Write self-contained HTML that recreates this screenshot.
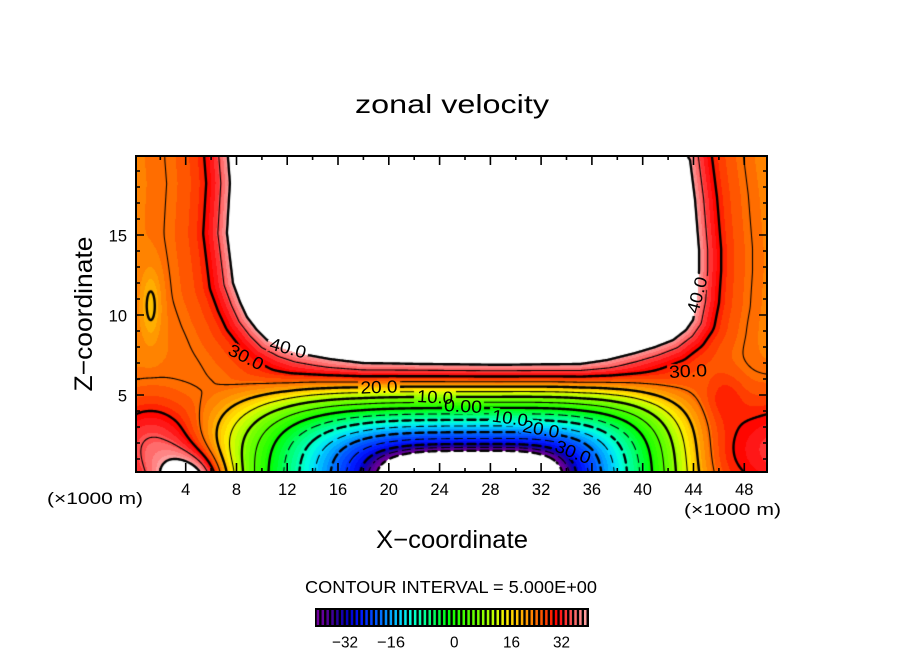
<!DOCTYPE html>
<html><head><meta charset="utf-8">
<style>
html,body{margin:0;padding:0;background:#fff;}
#wrap{position:relative;width:904px;height:654px;overflow:hidden;background:#fff;}
canvas{position:absolute;left:136px;top:157px;}
svg{position:absolute;left:0;top:0;}
text{font-family:"Liberation Sans",sans-serif;fill:#000;}
</style></head><body><div id="wrap">
<canvas id="c" width="631" height="315"></canvas>
<canvas id="l" width="631" height="315"></canvas>
<svg id="s" width="904" height="654" xmlns="http://www.w3.org/2000/svg">
<g id="cb"></g>
<rect x="136" y="156" width="631" height="316" fill="none" stroke="#000" stroke-width="2"/>
<path id="ticks" d="" stroke="#000" stroke-width="1.6" fill="none"/>
<text x="452" y="113" font-size="26" text-anchor="middle" textLength="194" lengthAdjust="spacingAndGlyphs">zonal velocity</text>
<text transform="translate(92,314) rotate(-90)" font-size="25" text-anchor="middle" textLength="155" lengthAdjust="spacingAndGlyphs">Z−coordinate</text>
<text x="452" y="548" font-size="25" text-anchor="middle" textLength="152" lengthAdjust="spacingAndGlyphs">X−coordinate</text>
<text x="47" y="504" font-size="16.5" textLength="96" lengthAdjust="spacingAndGlyphs">(×1000 m)</text>
<text x="684" y="515" font-size="16.5" textLength="97" lengthAdjust="spacingAndGlyphs">(×1000 m)</text>
<text x="305" y="593" font-size="17.5" textLength="292" lengthAdjust="spacingAndGlyphs">CONTOUR INTERVAL = 5.000E+00</text>
<g font-size="16.5" text-anchor="middle">
<text x="185.7" y="495">4</text><text x="236.5" y="495">8</text><text x="287.2" y="495">12</text>
<text x="338" y="495">16</text><text x="388.8" y="495">20</text><text x="439.6" y="495">24</text>
<text x="490.4" y="495">28</text><text x="541.1" y="495">32</text><text x="591.9" y="495">36</text>
<text x="642.7" y="495">40</text><text x="693.5" y="495">44</text><text x="744.3" y="495">48</text>
</g>
<g font-size="16.5" text-anchor="end">
<text x="127" y="241.5">15</text><text x="127" y="321.5">10</text><text x="127" y="401.5">5</text>
</g>
<g font-size="16">
<text x="332" y="647.5" textLength="26" lengthAdjust="spacingAndGlyphs">−32</text>
<text x="377" y="647.5" textLength="28" lengthAdjust="spacingAndGlyphs">−16</text>
<text x="450" y="647.5" textLength="8.5" lengthAdjust="spacingAndGlyphs">0</text>
<text x="503" y="647.5" textLength="17" lengthAdjust="spacingAndGlyphs">16</text>
<text x="553" y="647.5" textLength="17" lengthAdjust="spacingAndGlyphs">32</text>
</g>
<g font-size="17.5" text-anchor="middle" dominant-baseline="central">
<text transform="translate(288,348) rotate(15)" textLength="37" lengthAdjust="spacingAndGlyphs">40.0</text>
<text transform="translate(246,357) rotate(27)" textLength="37" lengthAdjust="spacingAndGlyphs">30.0</text>
<text transform="translate(379,387) rotate(-2)" textLength="37" lengthAdjust="spacingAndGlyphs">20.0</text>
<text transform="translate(435,397) rotate(3)" textLength="36" lengthAdjust="spacingAndGlyphs">10.0</text>
<text transform="translate(463,406) rotate(3)" textLength="38" lengthAdjust="spacingAndGlyphs">0.00</text>
<text transform="translate(510,418) rotate(8)" textLength="36" lengthAdjust="spacingAndGlyphs">10.0</text>
<text transform="translate(541,429) rotate(10)" textLength="37" lengthAdjust="spacingAndGlyphs">20.0</text>
<text transform="translate(573,452) rotate(22)" textLength="37" lengthAdjust="spacingAndGlyphs">30.0</text>
<text transform="translate(697,295) rotate(-75)" textLength="37" lengthAdjust="spacingAndGlyphs">40.0</text>
<text transform="translate(688,371) rotate(-3)" textLength="38" lengthAdjust="spacingAndGlyphs">30.0</text>
</g>
</svg>
</div>
<script>
(function(){
var PL=136,PT=157,W=631,H=315;
var jet=[[228,-300],[228,157],[230,183],[227,233],[233,283],[240,302],[247,317],[257,330],[267,340],[282,348],[297,353],[330,359],[363,363],[420,364],[500,365],[580,364],[607,360],[635,353],[655,347],[673,340],[686,330],[693,320],[697,300],[699,270],[699,250],[695,200],[690,160],[688,157],[688,-300]];
function polyDist(P,x,y){
  var d2=1e18,ins=false;
  for(var i=0,j=P.length-1;i<P.length;j=i++){
    var xi=P[i][0],yi=P[i][1],xj=P[j][0],yj=P[j][1];
    if(((yi>y)!==(yj>y))&&(x<(xj-xi)*(y-yi)/(yj-yi)+xi)) ins=!ins;
    var dx=xi-xj,dy=yi-yj,L2=dx*dx+dy*dy;
    var t=L2>0?((x-xj)*dx+(y-yj)*dy)/L2:0; t=t<0?0:(t>1?1:t);
    var ex=xj+t*dx-x,ey=yj+t*dy-y,e=ex*ex+ey*ey; if(e<d2)d2=e;
  }
  var d=Math.sqrt(d2); return ins?-d:d;
}
function g2(x,y,cx,cy,sx,sy){var a=(x-cx)/sx,b=(y-cy)/sy;return Math.exp(-(a*a+b*b));}
function field(x,y){
  var dJ=polyDist(jet,x,y);
  var P=23+0.7/(1+Math.exp((x-450)/40));
  var f=dJ>=0?P+(40-P)*Math.exp(-dJ/25):40-dJ;
  var dx=x-478,dy=y-495;
  var k=dx<0?0.4295:0.52;
  var ax=k*dx,ay=dy;
  var r=Math.sqrt(Math.sqrt(ax*ax*ax*ax+ay*ay*ay*ay));
  var t=134-r;
  var h=t<=0?0:(t<24?t*t/48:t-12);
  f+=-0.75*h-0.7*Math.max(0,52-r);
  f+=22*g2(x,y,190,484,35,30);
  f+=11*g2(x,y,150,445,45,45);
  f+=11*g2(x,y,785,450,75,55);
  f+=3.5*g2(x,y,725,395,20,25);
  f-=5*g2(x,y,151,305,10,35);
  return f;
}
var A=[[-40,120,0,160],[-36,80,0,150],[-33,30,0,160],[-30,0,0,200],[-27,0,20,255],[-22,0,90,255],[-18,0,160,255],[-15,0,215,255],[-12,0,255,220],[-8,0,255,150],[-4,0,255,70],[-1,0,255,10],[1,30,255,0],[8,120,255,0],[13,200,255,0],[16,255,240,0],[20,255,185,0],[24,255,125,0],[28,255,60,0],[31,255,0,0],[33,255,40,40],[36,255,100,100],[40,255,170,170]];
function cmap(v){
  if(v<=A[0][0]) return [A[0][1],A[0][2],A[0][3]];
  for(var k=1;k<A.length;k++){ if(v<=A[k][0]){ var a=A[k-1],b=A[k],t=(v-a[0])/(b[0]-a[0]);
    return [a[1]+t*(b[1]-a[1]),a[2]+t*(b[2]-a[2]),a[3]+t*(b[3]-a[3])]; } }
  var z=A[A.length-1]; return [z[1],z[2],z[3]];
}
var N=56,lut=[];
for(var i=0;i<N;i++) lut.push(cmap(-40+(i+0.5)*80/N));
var F=new Float32Array(W*H);
for(var j=0;j<H;j++) for(var i=0;i<W;i++) F[j*W+i]=field(PL+i+0.5,PT+j+0.5);
var ctx=document.getElementById('c').getContext('2d');
var img=ctx.createImageData(W,H),D=img.data;
for(var p=0;p<W*H;p++){
  var f=F[p],q=p*4;
  if(f>40||f<-40){D[q]=255;D[q+1]=255;D[q+2]=255;}
  else{var idx=Math.floor((f+40)/80*N); if(idx>N-1)idx=N-1; if(idx<0)idx=0; var c=lut[idx];
    D[q]=c[0];D[q+1]=c[1];D[q+2]=c[2];}
  D[q+3]=255;
}
ctx.putImageData(img,0,0);
var lc=document.getElementById('l').getContext('2d');
var S={ks:[],ts:[],kd:[],td:[]};
function addSeg(lv,x1,y1,x2,y2){
  x1+=0.5;y1+=0.5;x2+=0.5;y2+=0.5;
  var key=((lv%10===0)?'k':'t')+(lv<0?'d':'s');
  if(lv<0){
    var mx=(x1+x2)/2+PL,my=(y1+y2)/2+PT;
    var u=Math.abs(x2-x1)>Math.abs(y2-y1)?mx:my;
    if((u%13)>=8) return;
  }
  S[key].push(x1,y1,x2,y2);
}
for(var j=0;j<H-1;j++) for(var i=0;i<W-1;i++){
  var a=F[j*W+i],b=F[j*W+i+1],c=F[(j+1)*W+i+1],d=F[(j+1)*W+i];
  var mn=Math.min(a,b,c,d),mx=Math.max(a,b,c,d);
  if(mx-mn<1e-9) continue;
  for(var lv=Math.ceil(mn/5)*5;lv<=mx;lv+=5){
    if(lv<-40||lv>40) continue;
    var pts=[];
    if((a<lv)!==(b<lv)) pts.push([i+(lv-a)/(b-a),j]);
    if((b<lv)!==(c<lv)) pts.push([i+1,j+(lv-b)/(c-b)]);
    if((d<lv)!==(c<lv)) pts.push([i+(lv-d)/(c-d),j+1]);
    if((a<lv)!==(d<lv)) pts.push([i,j+(lv-a)/(d-a)]);
    if(pts.length>=2) addSeg(lv,pts[0][0],pts[0][1],pts[1][0],pts[1][1]);
    if(pts.length>=4) addSeg(lv,pts[2][0],pts[2][1],pts[3][0],pts[3][1]);
  }
}
lc.strokeStyle='#000';lc.lineCap='round';
var WS={ks:2.4,ts:1.1,kd:2.4,td:1.1};
for(var key in S){
  var s=S[key]; lc.lineWidth=WS[key]; lc.beginPath();
  for(var m=0;m<s.length;m+=4){lc.moveTo(s[m],s[m+1]);lc.lineTo(s[m+2],s[m+3]);}
  lc.stroke();
}
var labs=[[288,348,15],[246,357,27],[379,387,-2],[435,397,3],[463,406,3],[510,418,8],[541,429,10],[573,452,22],[697,295,-75],[688,371,-3]];
for(var n=0;n<labs.length;n++){
  var L=labs[n]; lc.save(); lc.translate(L[0]-PL,L[1]-PT); lc.rotate(L[2]*Math.PI/180);
  lc.clearRect(-21,-8,42,16); lc.restore();
}
var dd='';
for(var v=2;v<=48;v+=2){var x=(134.9+12.695*v).toFixed(1);var tl=(v%4===0)?9:4;dd+='M'+x+' 472V'+(472-tl)+'M'+x+' 156V'+(156+tl);}
for(var v=1;v<=19;v++){var y=475-16*v;var tl=(v%5===0)?8:4;dd+='M136 '+y+'H'+(136+tl)+'M767 '+y+'H'+(767-tl);}
document.getElementById('ticks').setAttribute('d',dd);
var NS='http://www.w3.org/2000/svg',g=document.getElementById('cb');
var bg=document.createElementNS(NS,'rect');
bg.setAttribute('x',315);bg.setAttribute('y',608);bg.setAttribute('width',274);bg.setAttribute('height',19);bg.setAttribute('fill','#000');
g.appendChild(bg);
for(var i=0;i<N;i++){
  var c=cmap(-40+(i+0.5)*80/N);
  var r=document.createElementNS(NS,'rect');
  r.setAttribute('x',(316.7+i*4.86).toFixed(2));r.setAttribute('y',610);
  r.setAttribute('width',2.5);r.setAttribute('height',15);
  r.setAttribute('fill','rgb('+Math.round(c[0])+','+Math.round(c[1])+','+Math.round(c[2])+')');
  g.appendChild(r);
}
})();
</script>
</body></html>
